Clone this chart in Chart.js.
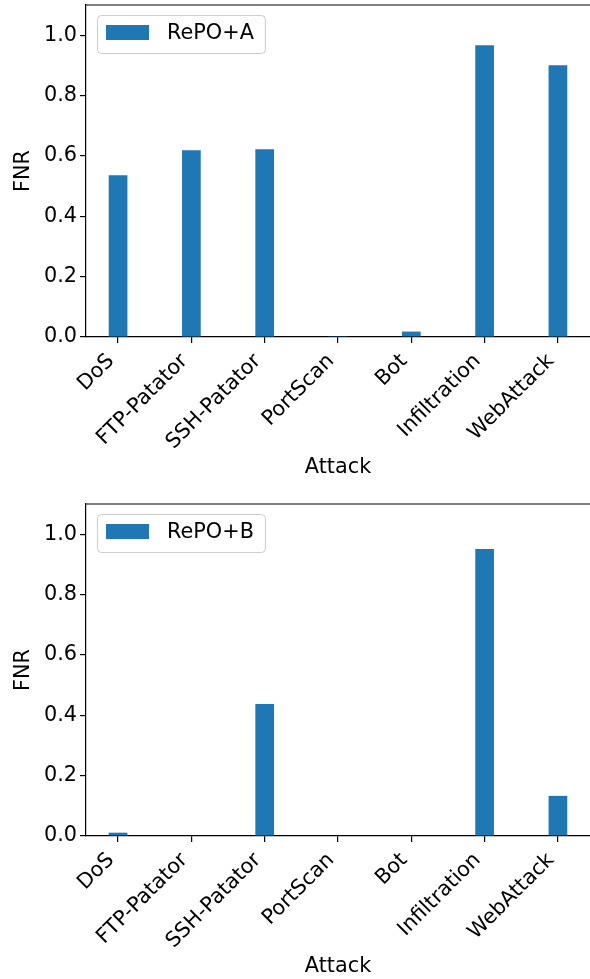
<!DOCTYPE html>
<html>
<head>
<meta charset="utf-8">
<script src="https://cdn.jsdelivr.net/npm/chart.js@4.4.1/dist/chart.umd.min.js"></script>
<style>
  html, body { margin: 0; padding: 0; background: #fff; overflow: hidden; }
  .panel { position: absolute; left: 0; width: 590px; height: 499px; }
</style>
</head>
<body>
<div class="panel" style="top:0"><canvas id="chart-a"></canvas></div>
<div class="panel" style="top:499px"><canvas id="chart-b"></canvas></div>
<script>
  /* ── data ── */
  const ATTACKS = ["DoS", "FTP-Patator", "SSH-Patator", "PortScan", "Bot", "Infiltration", "WebAttack"];
  const FNR_REPO_A = [0.536, 0.619, 0.622, 0.003, 0.018, 0.967, 0.900];
  const FNR_REPO_B = [0.011, 0, 0.437, 0, 0, 0.951, 0.133];
  const Y_TICKS = [0, 0.2, 0.4, 0.6, 0.8, 1.0];

  const BAR_BLUE = "#1f77b4";
  const FONT = "'DejaVu Sans', sans-serif";

  Chart.defaults.font.family = FONT;
  Chart.defaults.font.size = 20.8;
  Chart.defaults.color = "#000";

  // top spine + matplotlib style legend box in the upper left
  const frameAndLegend = {
    id: "frameAndLegend",
    afterDraw(chart) {
      var ctx = chart.ctx, ca = chart.chartArea;
      ctx.save();
      ctx.strokeStyle = "#000";
      ctx.lineWidth = 1.2;
      ctx.beginPath();
      ctx.moveTo(ca.left, ca.top);
      ctx.lineTo(ca.right, ca.top);
      ctx.stroke();

      var ds = chart.data.datasets[0];
      ctx.font = "20.8px " + FONT;
      var tw = ctx.measureText(ds.label).width;
      var bx = ca.left + 11, by = ca.top + 10;
      var bw = 81 + tw, bh = 38;
      ctx.beginPath();
      ctx.roundRect(bx + 0.5, by + 0.5, bw, bh, 4);
      ctx.fillStyle = "rgba(255,255,255,0.8)";
      ctx.fill();
      ctx.strokeStyle = "#cccccc";
      ctx.lineWidth = 1;
      ctx.stroke();

      ctx.fillStyle = ds.backgroundColor;
      ctx.fillRect(bx + 9, by + 10, 43, 15);
      ctx.fillStyle = "#000";
      ctx.textBaseline = "middle";
      ctx.textAlign = "left";
      ctx.fillText(ds.label, bx + 70, by + 18.5);
      ctx.restore();
    },
  };

  function axisLine() {
    return { drawOnChartArea: false, offset: false, tickLength: 6, color: "#000", lineWidth: 1.2 };
  }

  function makeChart(canvasId, label, values) {
    return new Chart(document.getElementById(canvasId), {
      type: "bar",
      data: {
        datasets: [{
          label: label,
          data: values.map(function (v, i) { return { x: i, y: v }; }),
          backgroundColor: BAR_BLUE,
          borderWidth: 0,
          categoryPercentage: 1,
          barPercentage: 0.255,
        }],
      },
      options: {
        responsive: true,
        maintainAspectRatio: false,
        animation: false,
        layout: { padding: { top: 5, left: 0, right: 0, bottom: 0 } },
        plugins: { legend: { display: false }, tooltip: { enabled: false } },
        scales: {
          x: {
            type: "linear",
            offset: false,
            min: -0.4375,
            max: 6.4375,
            afterBuildTicks: function (s) { s.ticks = ATTACKS.map(function (_, i) { return { value: i }; }); },
            afterFit: function (s) {
              s.height = 162;
              s.paddingLeft = 0;
              s.paddingRight = 0;
            },
            ticks: {
              callback: function (v) { return ATTACKS[v]; },
              minRotation: 45,
              maxRotation: 45,
              autoSkip: false,
              padding: 6,
              labelOffset: -7,
            },
            grid: axisLine(),
            border: { color: "#000", width: 1.2 },
            title: { display: true, text: "Attack", padding: { top: 0, bottom: 19 } },
          },
          y: {
            min: 0,
            max: 1.1,
            afterBuildTicks: function (s) { s.ticks = Y_TICKS.map(function (v) { return { value: v }; }); },
            afterFit: function (s) {
              s.width = 86;
              s.paddingTop = 0;
              s.paddingBottom = 0;
            },
            ticks: { callback: function (v) { return v.toFixed(1); }, padding: 3 },
            grid: axisLine(),
            border: { color: "#000", width: 1.2 },
            title: { display: true, text: "FNR", padding: { top: 11.5, bottom: 0 } },
          },
        },
      },
      plugins: [frameAndLegend],
    });
  }

  makeChart("chart-a", "RePO+A", FNR_REPO_A);
  makeChart("chart-b", "RePO+B", FNR_REPO_B);
</script>
</body>
</html>
